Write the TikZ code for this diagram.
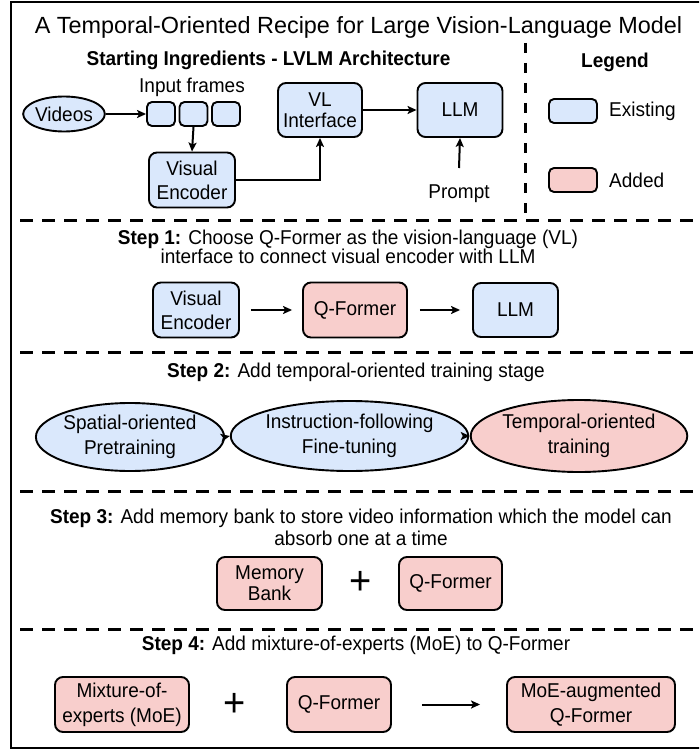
\documentclass[tikz,border=0pt]{standalone}
\usepackage{fontspec}
\setmainfont[FakeStretch=0.95]{Liberation Sans}
\newfontfamily\titlefont{Liberation Sans}
\usetikzlibrary{arrows.meta,shapes.geometric}
\definecolor{bluefill}{HTML}{DAE8FC}
\definecolor{redfill}{HTML}{F8CECC}
\begin{document}
\begin{tikzpicture}[x=1pt,y=-1pt,
  base/.style={font=\fontsize{20}{23}\selectfont, text=black, inner sep=0pt},
  plain/.style={base, align=center},
  boxb/.style={base, draw, line width=1.9pt, rounded corners=8pt, fill=bluefill, align=center},
  boxr/.style={boxb, fill=redfill},
  ellb/.style={base, ellipse, draw, line width=1.9pt, fill=bluefill, align=center},
  ellr/.style={ellb, fill=redfill},
  arr/.style={line width=2pt, -{Stealth[length=9pt,width=8pt,inset=2pt]}},
  sep/.style={line width=3pt, dash pattern=on 13pt off 9pt},
  plus/.style={font=\fontsize{40}{40}\selectfont, inner sep=0pt}
]
\path[use as bounding box, clip] (0,0) rectangle (699,749);
% frame
\draw[line width=1.8pt] (11,2) rectangle (720,748);

% separators
\draw[sep] (20,220) -- (705,220);
\draw[sep] (20,352) -- (705,352);
\draw[sep] (20,491) -- (705,491);
\draw[sep] (20,629) -- (705,629);
\draw[line width=3pt, dash pattern=on 10pt off 10pt] (525,43) -- (525,220);

% title
\node[base, font=\titlefont\fontsize{23.4}{28}\selectfont] (title) at (358.5,27) {A Temporal-Oriented Recipe for Large Vision-Language Model};

% starting ingredients
\node[base, font=\fontsize{20}{23}\selectfont\bfseries] (hdr) at (268.5,60) {Starting Ingredients - LVLM Architecture};
\node[ellb, minimum width=68pt, minimum height=35pt] (videos) at (64,114) {Videos};
\node[plain] (inframes) at (192,87) {Input frames};
\node[boxb, rounded corners=5pt, minimum width=28pt, minimum height=24pt] (f1) at (161,114) {};
\node[boxb, rounded corners=5pt, minimum width=28pt, minimum height=24pt] (f2) at (193.5,114) {};
\node[boxb, rounded corners=5pt, minimum width=28pt, minimum height=24pt] (f3) at (226,114) {};
\node[boxb, minimum width=86pt, minimum height=55pt, font=\fontsize{20}{24}\selectfont] (ve) at (192,180) {Visual\\Encoder};
\node[boxb, minimum width=84pt, minimum height=54pt, font=\fontsize{20}{21}\selectfont] (vl) at (320,110) {VL\\Interface};
\node[boxb, minimum width=85pt, minimum height=54pt] (llm) at (460,110) {LLM};
\node[plain] (prompt) at (459,194) {Prompt};
\coordinate (pr) at (459,168);

\draw[arr] (videos.east) -- (f1.west);
\draw[arr] (f2.south) -- (ve.north);
\draw[arr] (ve.east) -| (vl.south);
\draw[arr] (vl.east) -- (llm.west);
\draw[arr] (pr) -- (llm.south);

% legend
\node[base, font=\fontsize{20}{23}\selectfont\bfseries] (legend) at (615,62) {Legend};
\node[boxb, rounded corners=5pt, minimum width=48pt, minimum height=24pt] (legb) at (573,111) {};
\node[base, anchor=west] (existing) at (609,111) {Existing};
\node[boxr, rounded corners=5pt, minimum width=48pt, minimum height=24pt] (legr) at (573,180) {};
\node[base, anchor=west] (added) at (609,180) {Added};

% step 1
\node[plain, font=\fontsize{20}{18}\selectfont] (s1) at (348,247) {\textbf{Step 1:} Choose Q-Former as the vision-language (VL)\\interface to connect visual encoder with LLM};
\node[boxb, minimum width=86pt, minimum height=55pt, font=\fontsize{20}{24}\selectfont] (ve1) at (196,310) {Visual\\Encoder};
\node[boxr, minimum width=104pt, minimum height=55pt] (qf1) at (355,310) {Q-Former};
\node[boxb, minimum width=85pt, minimum height=54pt] (llm1) at (515.5,310) {LLM};
\draw[arr, shorten <=11pt, shorten >=10pt] (ve1.east) -- (qf1.west);
\draw[arr, shorten <=12pt, shorten >=12pt] (qf1.east) -- (llm1.west);

% step 2
\node[plain] (s2) at (356,372) {\textbf{Step 2:} Add temporal-oriented training stage};
\node[ellb, minimum width=178pt, minimum height=68pt, font=\fontsize{20}{25}\selectfont] (e1) at (130,437) {Spatial-oriented\\Pretraining};
\node[ellb, minimum width=205pt, minimum height=70pt, font=\fontsize{20}{25}\selectfont] (e2) at (349.5,436) {Instruction-following\\Fine-tuning};
\node[ellr, minimum width=206pt, minimum height=72pt, font=\fontsize{20}{25}\selectfont] (e3) at (579,436) {Temporal-oriented\\training};
\draw[arr] (e1.east) -- (e2.west);
\draw[arr] (e2.east) -- (e3.west);

% step 3
\node[plain, font=\fontsize{20}{22}\selectfont] (s3) at (361,527) {\textbf{Step 3:} Add memory bank to store video information which the model can\\absorb one at a time};
\node[boxr, minimum width=105pt, minimum height=53pt, font=\fontsize{20}{21}\selectfont] (mb) at (269.5,583.5) {Memory\\Bank};
\node[plus] (plus1) at (361,583) {+};
\node[boxr, minimum width=103pt, minimum height=53pt] (qf3) at (450.5,583.5) {Q-Former};

% step 4
\node[plain] (s4) at (356,645) {\textbf{Step 4:} Add mixture-of-experts (MoE) to Q-Former};
\node[boxr, minimum width=134pt, minimum height=55pt, font=\fontsize{20}{25}\selectfont] (moe) at (122,704.5) {Mixture-of-\\experts (MoE)};
\node[plus] (plus2) at (235,705) {+};
\node[boxr, minimum width=104pt, minimum height=55pt] (qf4) at (339,704.5) {Q-Former};
\node[boxr, minimum width=168pt, minimum height=55pt, font=\fontsize{20}{25}\selectfont] (aug) at (591,704.5) {MoE-augmented\\Q-Former};
\draw[arr, shorten <=30pt, shorten >=26pt] (qf4.east) -- (aug.west);
\end{tikzpicture}
\end{document}
